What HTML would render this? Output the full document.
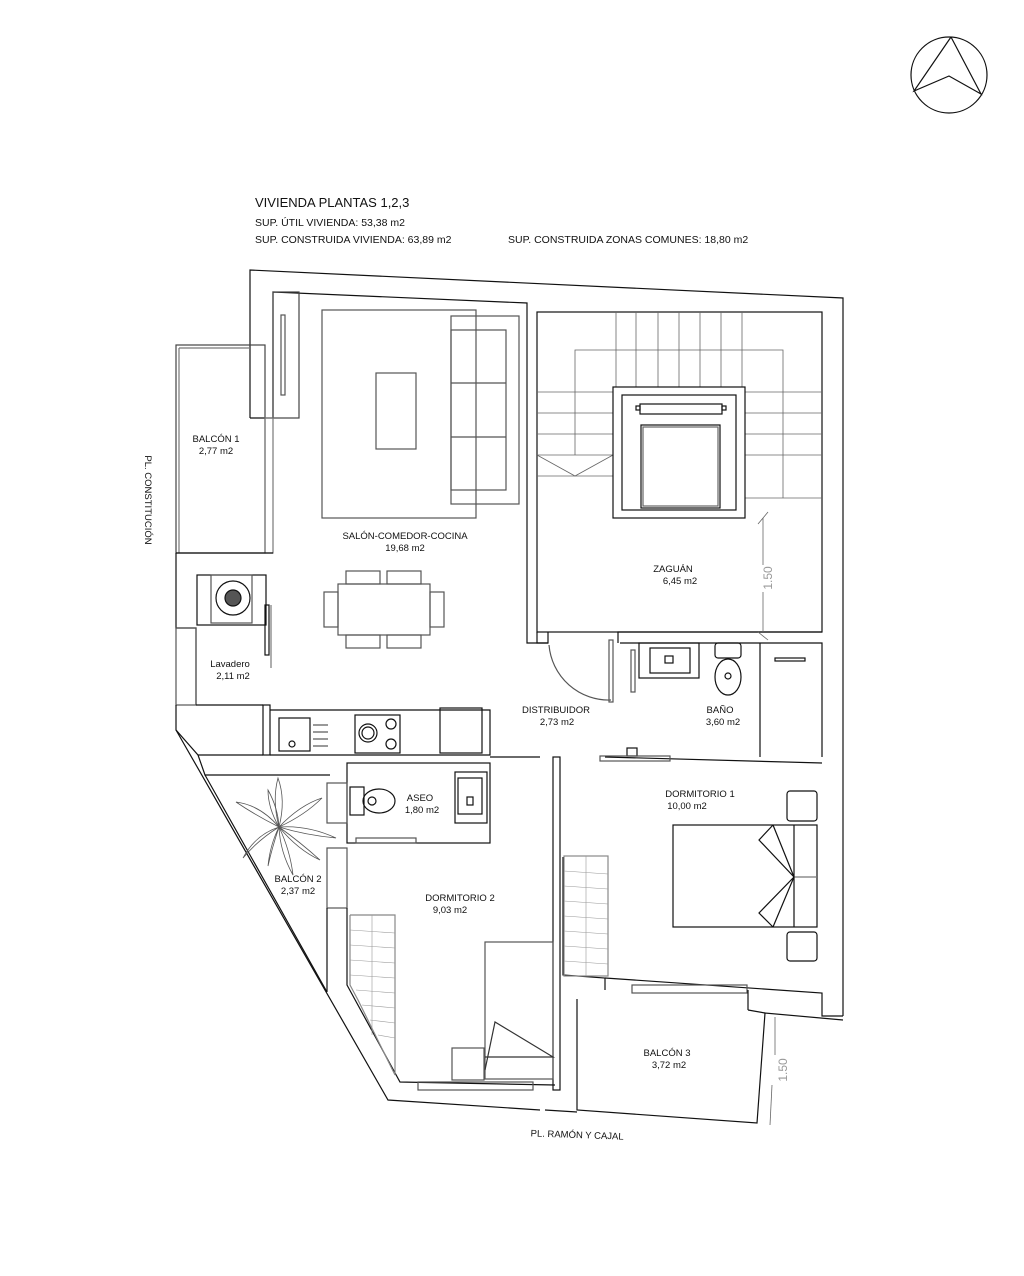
<!DOCTYPE html>
<html><head><meta charset="utf-8"><style>
html,body{margin:0;padding:0;background:#fff;}
svg{display:block;}
text{font-family:"Liberation Sans",Arial,sans-serif;}
</style></head><body>
<svg width="1024" height="1276" viewBox="0 0 1024 1276" xmlns="http://www.w3.org/2000/svg">
<g fill="none" stroke="#111" stroke-width="1.2">
<!-- north arrow -->
<circle cx="949" cy="75" r="38"/>
<polyline points="951,37 914,91 949,76 981,94 951,37"/>

<!-- outer walls -->
<polyline points="250,418 250,270 843,298 843,1016"/>
<polyline points="273,418 273,292 527,303 527,643 548,643 548,632"/>
<line x1="250" y1="418" x2="273" y2="418"/>
<rect x="273" y="292" width="26" height="126" stroke="#444"/>
<rect x="281" y="315" width="4" height="80" stroke="#555"/>
<!-- balcon 1 -->
<rect x="176" y="345" width="89" height="208" stroke="#444"/>
<line x1="179" y1="348" x2="250" y2="348" stroke="#777"/>
<line x1="179" y1="348" x2="179" y2="553" stroke="#777"/>
<rect x="265" y="418" width="8" height="135" stroke="#777"/>
<line x1="176" y1="553" x2="273" y2="553"/>
<!-- lavadero -->
<polyline points="176,553 176,628 196,628 196,705"/>
<rect x="176" y="628" width="20" height="77" stroke="#555"/>
<rect x="197" y="575" width="69" height="50"/>
<rect x="211" y="575" width="41" height="48" stroke="#555"/>
<circle cx="233" cy="598" r="17"/>
<circle cx="233" cy="598" r="8" fill="#555"/>
<rect x="265" y="605" width="4" height="50"/>
<line x1="271" y1="605" x2="271" y2="668" stroke="#777"/>
<!-- diagonal left wall -->
<polyline points="176,705 176,730 198,755 263,755"/>
<line x1="196" y1="705" x2="263" y2="705"/>
<polyline points="176,730 388,1100 540,1110"/>
<polyline points="198,755 205,775 330,775"/>
<polyline points="205,775 327,992"/>
<!-- kitchen -->
<rect x="263" y="705" width="7" height="50"/>
<polyline points="270,710 490,710 490,755 270,755"/>
<rect x="279" y="718" width="31" height="33"/>
<circle cx="292" cy="744" r="3"/>
<line x1="313" y1="725" x2="328" y2="725" stroke="#555"/>
<line x1="313" y1="732" x2="328" y2="732" stroke="#555"/>
<line x1="313" y1="739" x2="328" y2="739" stroke="#555"/>
<line x1="313" y1="746" x2="328" y2="746" stroke="#555"/>
<rect x="355" y="715" width="45" height="38"/>
<circle cx="368" cy="733" r="9"/><circle cx="368" cy="733" r="6"/>
<circle cx="391" cy="724" r="5"/><circle cx="391" cy="744" r="5"/>
<rect x="440" y="708" width="42" height="45"/>
<!-- salon furniture -->
<rect x="322" y="310" width="154" height="208" stroke="#555"/>
<rect x="376" y="373" width="40" height="76" stroke="#555"/>
<rect x="451" y="316" width="68" height="188" stroke="#555"/>
<rect x="451" y="330" width="55" height="160" stroke="#555"/>
<line x1="451" y1="383" x2="506" y2="383" stroke="#555"/>
<line x1="451" y1="437" x2="506" y2="437" stroke="#555"/>
<rect x="338" y="584" width="92" height="51" stroke="#555"/>
<rect x="346" y="571" width="34" height="13" stroke="#555"/>
<rect x="387" y="571" width="34" height="13" stroke="#555"/>
<rect x="346" y="635" width="34" height="13" stroke="#555"/>
<rect x="387" y="635" width="34" height="13" stroke="#555"/>
<rect x="324" y="592" width="14" height="35" stroke="#555"/>
<rect x="430" y="592" width="14" height="35" stroke="#555"/>
<!-- zaguan / stairs -->
<rect x="537" y="312" width="285" height="320"/>
<polyline points="537,632 537,643 548,643"/>
<polyline points="618,643 618,632 822,632"/>
<g stroke="#666" stroke-width="0.8">
<line x1="616" y1="312" x2="616" y2="387"/><line x1="636" y1="312" x2="636" y2="387"/>
<line x1="658" y1="312" x2="658" y2="387"/><line x1="679" y1="312" x2="679" y2="387"/>
<line x1="700" y1="312" x2="700" y2="387"/><line x1="721" y1="312" x2="721" y2="387"/>
<line x1="742" y1="312" x2="742" y2="387"/>
<polyline points="575,455 575,350 783,350 783,498"/>
<line x1="537" y1="392" x2="613" y2="392"/><line x1="537" y1="413" x2="613" y2="413"/>
<line x1="537" y1="434" x2="613" y2="434"/><line x1="537" y1="455" x2="613" y2="455"/>
<line x1="537" y1="476" x2="613" y2="476"/>
<polyline points="537,455 575,476 613,455"/>
<line x1="745" y1="392" x2="822" y2="392"/><line x1="745" y1="413" x2="822" y2="413"/>
<line x1="745" y1="434" x2="822" y2="434"/><line x1="745" y1="455" x2="822" y2="455"/>
<line x1="745" y1="498" x2="822" y2="498"/>
</g>
<rect x="613" y="387" width="132" height="131"/>
<rect x="622" y="395" width="114" height="115"/>
<rect x="640" y="404" width="82" height="10"/>
<rect x="641" y="425" width="79" height="83"/>
<rect x="643" y="427" width="75" height="79" stroke="#666"/>
<rect x="636" y="406" width="4" height="4"/><rect x="722" y="406" width="4" height="4"/>
<!-- dims -->
<g stroke="#666" stroke-width="0.8">
<line x1="763" y1="518" x2="763" y2="565"/><line x1="763" y1="592" x2="763" y2="632"/>
<line x1="758" y1="524" x2="768" y2="512"/><line x1="758" y1="632" x2="768" y2="640"/>
<line x1="775" y1="1017" x2="775" y2="1055"/><line x1="772" y1="1085" x2="770" y2="1125"/>
</g>
<!-- door arc distribuidor -->
<path d="M549,645 A60,60 0 0 0 611,700" stroke="#555"/>
<rect x="609" y="640" width="4" height="62" stroke="#555"/>
<!-- bano -->
<polyline points="620,643 822,643 822,757"/>
<rect x="639" y="643" width="60" height="35"/>
<rect x="650" y="648" width="40" height="25"/>
<rect x="665" y="656" width="8" height="7"/>
<rect x="715" y="643" width="26" height="15" rx="3"/>
<ellipse cx="728" cy="677" rx="13" ry="18"/>
<ellipse cx="728" cy="676" rx="3" ry="3"/>
<line x1="760" y1="643" x2="760" y2="757"/>
<rect x="775" y="658" width="30" height="3"/>
<rect x="631" y="650" width="4" height="42" stroke="#555"/>
<!-- central partition -->
<rect x="553" y="757" width="7" height="333"/>
<line x1="490" y1="757" x2="540" y2="757"/>
<line x1="605" y1="757" x2="822" y2="763"/>
<rect x="627" y="748" width="10" height="8"/>
<rect x="600" y="756" width="70" height="5" stroke="#555"/>
<!-- aseo -->
<rect x="347" y="763" width="143" height="80"/>
<rect x="327" y="783" width="20" height="40" stroke="#555"/>
<rect x="350" y="787" width="14" height="28"/>
<ellipse cx="379" cy="801" rx="16" ry="12"/>
<circle cx="372" cy="801" r="4"/>
<rect x="455" y="772" width="32" height="51"/>
<rect x="458" y="778" width="24" height="36"/>
<rect x="467" y="797" width="6" height="8"/>
<rect x="356" y="838" width="60" height="5" stroke="#555"/>
<!-- balcon 2 plant -->
<g stroke="#555" stroke-width="0.8">
<path d="M279,827 Q272,800 278,778 Q286,800 279,827 Z"/>
<path d="M279,827 Q300,805 322,798 Q305,815 279,827 Z"/>
<path d="M279,827 Q308,825 336,838 Q305,835 279,827 Z"/>
<path d="M279,827 Q255,815 236,802 Q260,805 279,827 Z"/>
<path d="M279,827 Q258,840 243,858 Q255,835 279,827 Z"/>
<path d="M279,827 Q290,850 293,875 Q280,852 279,827 Z"/>
<path d="M279,827 Q268,808 268,790 Q278,808 279,827 Z"/>
<path d="M279,827 Q300,842 320,860 Q298,850 279,827 Z"/>
<path d="M279,827 Q272,848 268,866 Q270,845 279,827 Z"/>
</g>
<rect x="327" y="848" width="20" height="60" stroke="#555"/>
<line x1="327" y1="908" x2="327" y2="992"/>
<!-- dormitorio 2 -->
<polyline points="347,908 347,985 400,1082 555,1085"/>
<polyline points="350,915 395,915 395,1075 358,1000 350,985 350,915" stroke="#888"/>
<g stroke="#999" stroke-width="0.6">
<line x1="372" y1="915" x2="372" y2="1035"/>
<line x1="350" y1="930" x2="395" y2="933"/><line x1="350" y1="945" x2="395" y2="948"/>
<line x1="350" y1="960" x2="395" y2="963"/><line x1="350" y1="975" x2="395" y2="978"/>
<line x1="356" y1="990" x2="395" y2="993"/><line x1="362" y1="1005" x2="395" y2="1008"/>
<line x1="370" y1="1020" x2="395" y2="1023"/><line x1="378" y1="1035" x2="395" y2="1038"/>
</g>
<rect x="485" y="942" width="68" height="137" stroke="#555"/>
<polyline points="485,1070 495,1022 553,1057 485,1057" stroke="#333"/>
<rect x="452" y="1048" width="32" height="32" stroke="#555"/>
<rect x="418" y="1082" width="115" height="8" stroke="#555"/>
<!-- dormitorio 1 -->
<polyline points="563,857 563,975 605,978 605,990"/>
<rect x="564" y="856" width="44" height="120" stroke="#888"/>
<g stroke="#999" stroke-width="0.6">
<line x1="586" y1="856" x2="586" y2="976"/>
<line x1="564" y1="871" x2="608" y2="874"/><line x1="564" y1="886" x2="608" y2="889"/>
<line x1="564" y1="901" x2="608" y2="904"/><line x1="564" y1="916" x2="608" y2="919"/>
<line x1="564" y1="931" x2="608" y2="934"/><line x1="564" y1="946" x2="608" y2="949"/>
<line x1="564" y1="961" x2="608" y2="964"/>
</g>
<polyline points="605,978 822,993 822,1016 843,1016"/>
<rect x="673" y="825" width="144" height="102"/>
<line x1="794" y1="825" x2="794" y2="927"/>
<line x1="794" y1="877" x2="817" y2="877" stroke="#777"/>
<polyline points="773,825 759,840 794,877 759,913 773,927"/>
<line x1="773" y1="825" x2="794" y2="877"/><line x1="773" y1="927" x2="794" y2="877"/>
<rect x="787" y="791" width="30" height="30" rx="3"/>
<rect x="787" y="932" width="30" height="29" rx="3"/>
<rect x="632" y="985" width="115" height="8" stroke="#555"/>
<!-- balcon 3 -->
<polyline points="577,999 577,1110 757,1123 765,1013 843,1020"/>
<polyline points="545,1110 577,1112"/>
<line x1="748" y1="990" x2="748" y2="1010"/>
<line x1="748" y1="1010" x2="765" y2="1013"/>
</g>

<g style="fill:#111">
<text x="255" y="207" font-size="13">VIVIENDA PLANTAS 1,2,3</text>
<text x="255" y="226" font-size="10.5">SUP. ÚTIL VIVIENDA: 53,38 m2</text>
<text x="255" y="243" font-size="10.5">SUP. CONSTRUIDA VIVIENDA: 63,89 m2</text>
<text x="508" y="243" font-size="10.5">SUP. CONSTRUIDA ZONAS COMUNES: 18,80 m2</text>

<g font-size="9.5" text-anchor="middle">
<text x="216" y="442">BALCÓN 1</text><text x="216" y="454">2,77 m2</text>
<text x="405" y="539">SALÓN-COMEDOR-COCINA</text><text x="405" y="551">19,68 m2</text>
<text x="673" y="572">ZAGUÁN</text><text x="680" y="584">6,45 m2</text>
<text x="230" y="667">Lavadero</text><text x="233" y="679">2,11 m2</text>
<text x="556" y="713">DISTRIBUIDOR</text><text x="557" y="725">2,73 m2</text>
<text x="720" y="713">BAÑO</text><text x="723" y="725">3,60 m2</text>
<text x="420" y="801">ASEO</text><text x="422" y="813">1,80 m2</text>
<text x="700" y="797">DORMITORIO 1</text><text x="687" y="809">10,00 m2</text>
<text x="298" y="882">BALCÓN 2</text><text x="298" y="894">2,37 m2</text>
<text x="460" y="901">DORMITORIO 2</text><text x="450" y="913">9,03 m2</text>
<text x="667" y="1056">BALCÓN 3</text><text x="669" y="1068">3,72 m2</text>
</g>
<text x="0" y="0" font-size="9.5" text-anchor="middle" transform="translate(145,500) rotate(90)">PL. CONSTITUCIÓN</text>
<text x="0" y="0" font-size="9.5" text-anchor="middle" transform="translate(577,1138) rotate(2)">PL. RAMÓN Y CAJAL</text>
</g>
<text x="0" y="0" font-size="12" style="fill:#999" text-anchor="middle" transform="translate(772,578) rotate(-90)">1.50</text>
<text x="0" y="0" font-size="12" style="fill:#999" text-anchor="middle" transform="translate(787,1070) rotate(-90)">1.50</text>
</svg>
</body></html>
